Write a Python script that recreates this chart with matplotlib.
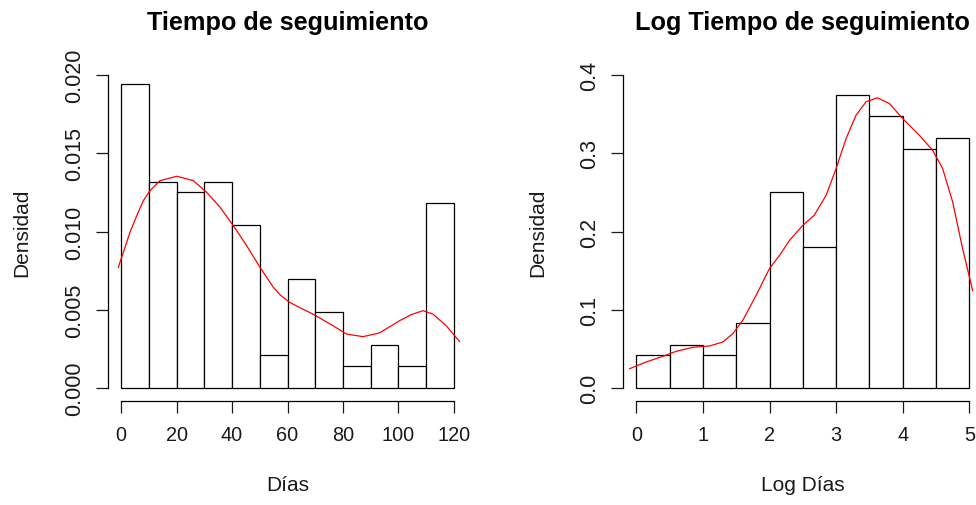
import matplotlib.pyplot as plt
import numpy as np

plt.rcParams['font.family'] = ['Liberation Sans', 'DejaVu Sans']

# histogram counts
dias_breaks = np.arange(0, 130, 10)
dias_counts = np.array([28, 19, 18, 19, 15, 3, 10, 7, 2, 4, 2, 17])

log_breaks = np.arange(0, 5.5, 0.5)
log_counts = np.array([3, 4, 3, 6, 18, 13, 27, 25, 22, 23])

# kernel density curves
dias_kx = [-0.97, 0.83, 3.24, 5.66, 8.04, 10.45, 14.05, 20.07, 26.05, 30.88,
           35.68, 40.47, 45.3, 50.09, 52.5, 54.8, 57.5, 60.8, 65.0, 69.2,
           76.4, 81.2, 87.2, 93.2, 100.4, 104.5, 108.8, 112.4, 117.2, 122.0]
dias_ky = [0.00771, 0.00867, 0.00995, 0.01101, 0.01197, 0.01261, 0.01325,
           0.01353, 0.01325, 0.0125, 0.01155, 0.01037, 0.00909, 0.00771,
           0.00707, 0.00645, 0.00592, 0.00547, 0.00508, 0.00472, 0.00398,
           0.00345, 0.00328, 0.00352, 0.0043, 0.00468, 0.00494, 0.00472,
           0.00398, 0.00297]

log_kx = [-0.1, 0.15, 0.4, 0.6, 0.85, 1.1, 1.3, 1.45, 1.6, 1.8, 2.0, 2.15,
          2.3, 2.5, 2.67, 2.85, 3.0, 3.15, 3.3, 3.45, 3.62, 3.8, 4.0, 4.25,
          4.45, 4.6, 4.75, 4.9, 5.05]
log_ky = [0.0247, 0.0333, 0.0405, 0.0469, 0.052, 0.0537, 0.0588, 0.0695,
          0.0866, 0.1186, 0.1527, 0.1694, 0.1886, 0.2078, 0.2206, 0.2462,
          0.2804, 0.3188, 0.3487, 0.3658, 0.3709, 0.3636, 0.3444, 0.323,
          0.3038, 0.2804, 0.2378, 0.178, 0.1246]

W, H = 976, 506
fig = plt.figure(figsize=(W / 100, H / 100), dpi=100)
ax1 = fig.add_axes([107.7 / W, (H - 401.5) / H, 359.6 / W, 338 / H])
ax2 = fig.add_axes([623 / W, (H - 401.5) / H, 359.6 / W, 338 / H])

TXT = '#1a1a1a'


def r_hist(ax, breaks, counts, kx, ky, xticks, yticks, yfmt, title, xlabel):
    width = breaks[1] - breaks[0]
    dens = counts / (counts.sum() * width)
    ax.bar(breaks[:-1], dens, width=width, align='edge', color='white',
           edgecolor='black', linewidth=0.9)
    ax.plot(kx, ky, color='red', lw=0.9)

    xr = breaks[-1] - breaks[0]
    ax.set_xlim(breaks[0] - 0.04 * xr, breaks[-1] + 0.04 * xr)
    yr = yticks[-1]
    ax.set_ylim(-0.04 * yr, 1.04 * yr)

    for s in ['top', 'right']:
        ax.spines[s].set_visible(False)
    ax.spines['left'].set_bounds(yticks[0], yticks[-1])
    ax.spines['bottom'].set_bounds(xticks[0], xticks[-1])
    for s in ['left', 'bottom']:
        ax.spines[s].set_linewidth(0.9)

    ax.set_xticks(xticks)
    ax.set_yticks(yticks)
    ax.set_yticklabels([yfmt % v for v in yticks], rotation=90, va='center',
                       fontsize=15.5)
    ax.tick_params(axis='both', length=8.6, width=0.9, colors=TXT)
    ax.tick_params(axis='x', pad=9.4, labelsize=14.3)
    ax.tick_params(axis='y', pad=8)

    ax.set_title(title, fontsize=18.2, fontweight='bold', pad=24)
    ax.set_xlabel(xlabel, fontsize=15, color=TXT)
    ax.set_ylabel('Densidad', fontsize=15, color=TXT)
    ax.xaxis.set_label_coords(0.5, -0.220)
    ax.yaxis.set_label_coords(-0.212, 0.5)


r_hist(ax1, dias_breaks, dias_counts, dias_kx, dias_ky,
       [0, 20, 40, 60, 80, 100, 120], [0, 0.005, 0.010, 0.015, 0.020], '%.3f',
       'Tiempo de seguimiento', 'Días')
r_hist(ax2, log_breaks, log_counts, log_kx, log_ky,
       [0, 1, 2, 3, 4, 5], [0, 0.1, 0.2, 0.3, 0.4], '%.1f',
       'Log Tiempo de seguimiento', 'Log Días')

fig.savefig('out.png', dpi=100)
